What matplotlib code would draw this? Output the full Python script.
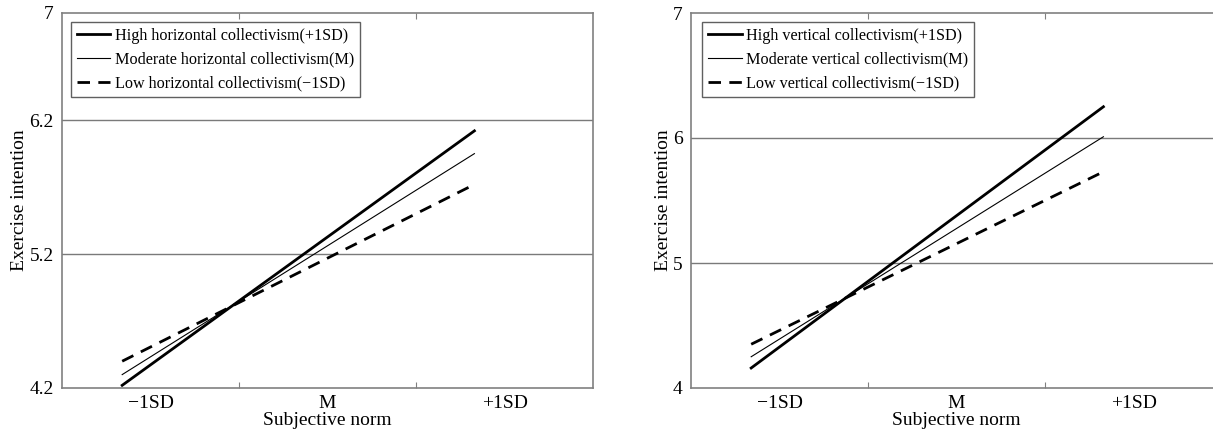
import numpy as np
import matplotlib
matplotlib.use('Agg')
import matplotlib.pyplot as plt

plt.rcParams['font.family'] = ['Liberation Serif', 'DejaVu Serif']

# Donnees (pentes simples)
sn_levels = [0.34, 2.33]          # position de -1SD et +1SD sur l'axe
x_labels = ['\u22121SD', 'M', '+1SD']

# panneau gauche : collectivisme horizontal
hc_high = [4.22, 6.12]
hc_mod = [4.30, 5.95]
hc_low = [4.40, 5.72]
hc_names = ['High horizontal collectivism(+1SD)',
            'Moderate horizontal collectivism(M)',
            'Low horizontal collectivism(\u22121SD)']
hc_yticks = [4.2, 5.2, 6.2, 7]

# panneau droit : collectivisme vertical
vc_high = [4.16, 6.25]
vc_mod = [4.25, 6.01]
vc_low = [4.35, 5.73]
vc_names = ['High vertical collectivism(+1SD)',
            'Moderate vertical collectivism(M)',
            'Low vertical collectivism(\u22121SD)']
vc_yticks = [4, 5, 6, 7]

W, H = 1213, 437
fig = plt.figure(figsize=(W / 100, H / 100), dpi=100)
ax1 = fig.add_axes([62 / W, 49 / H, 531 / W, 375 / H])
ax2 = fig.add_axes([691 / W, 49 / H, 531 / W, 375 / H])


def panel(ax, high, mod, low, names, yticks, leg_x):
    ax.plot(sn_levels, high, color='black', lw=2.0, label=names[0])
    ax.plot(sn_levels, mod, color='black', lw=0.8, label=names[1])
    ax.plot(sn_levels, low, color='black', lw=2.0, dashes=(4.5, 3), label=names[2])
    ax.set_xlim(0, 3)
    ax.set_ylim(yticks[0], yticks[-1])
    # graduations
    ax.set_xticks([1, 2])
    ax.set_xticklabels([])
    ax.set_xticks([0.5, 1.5, 2.5], minor=True)
    ax.set_xticklabels(x_labels, minor=True, fontsize=14)
    ax.tick_params(axis='x', which='major', direction='in', length=4,
                   color='#808080', top=True)
    ax.tick_params(axis='x', which='minor', length=0, pad=5)
    ax.set_yticks(yticks)
    ax.set_yticklabels([('%g' % v) for v in yticks], fontsize=14)
    ax.tick_params(axis='y', length=0, pad=6)
    for v in yticks[1:-1]:
        ax.axhline(v, color='#7a7a7a', lw=1.0, zorder=0)
    for s in ax.spines.values():
        s.set_color('#808080')
        s.set_linewidth(1.2)
    ax.set_xlabel('Subjective norm', fontsize=14, labelpad=0)
    ax.set_ylabel('Exercise intention', fontsize=14, labelpad=1)
    leg = ax.legend(loc='upper left', bbox_to_anchor=(leg_x, 0.976),
                    borderaxespad=0, fontsize=11.6, fancybox=False,
                    edgecolor='#606060', handlelength=2.1, handletextpad=0.3,
                    labelspacing=0.5, borderpad=0.35, framealpha=1)
    leg.get_frame().set_linewidth(1.0)


panel(ax1, hc_high, hc_mod, hc_low, hc_names, hc_yticks, 0.017)
panel(ax2, vc_high, vc_mod, vc_low, vc_names, vc_yticks, 0.021)

fig.savefig('out.png', dpi=100)
